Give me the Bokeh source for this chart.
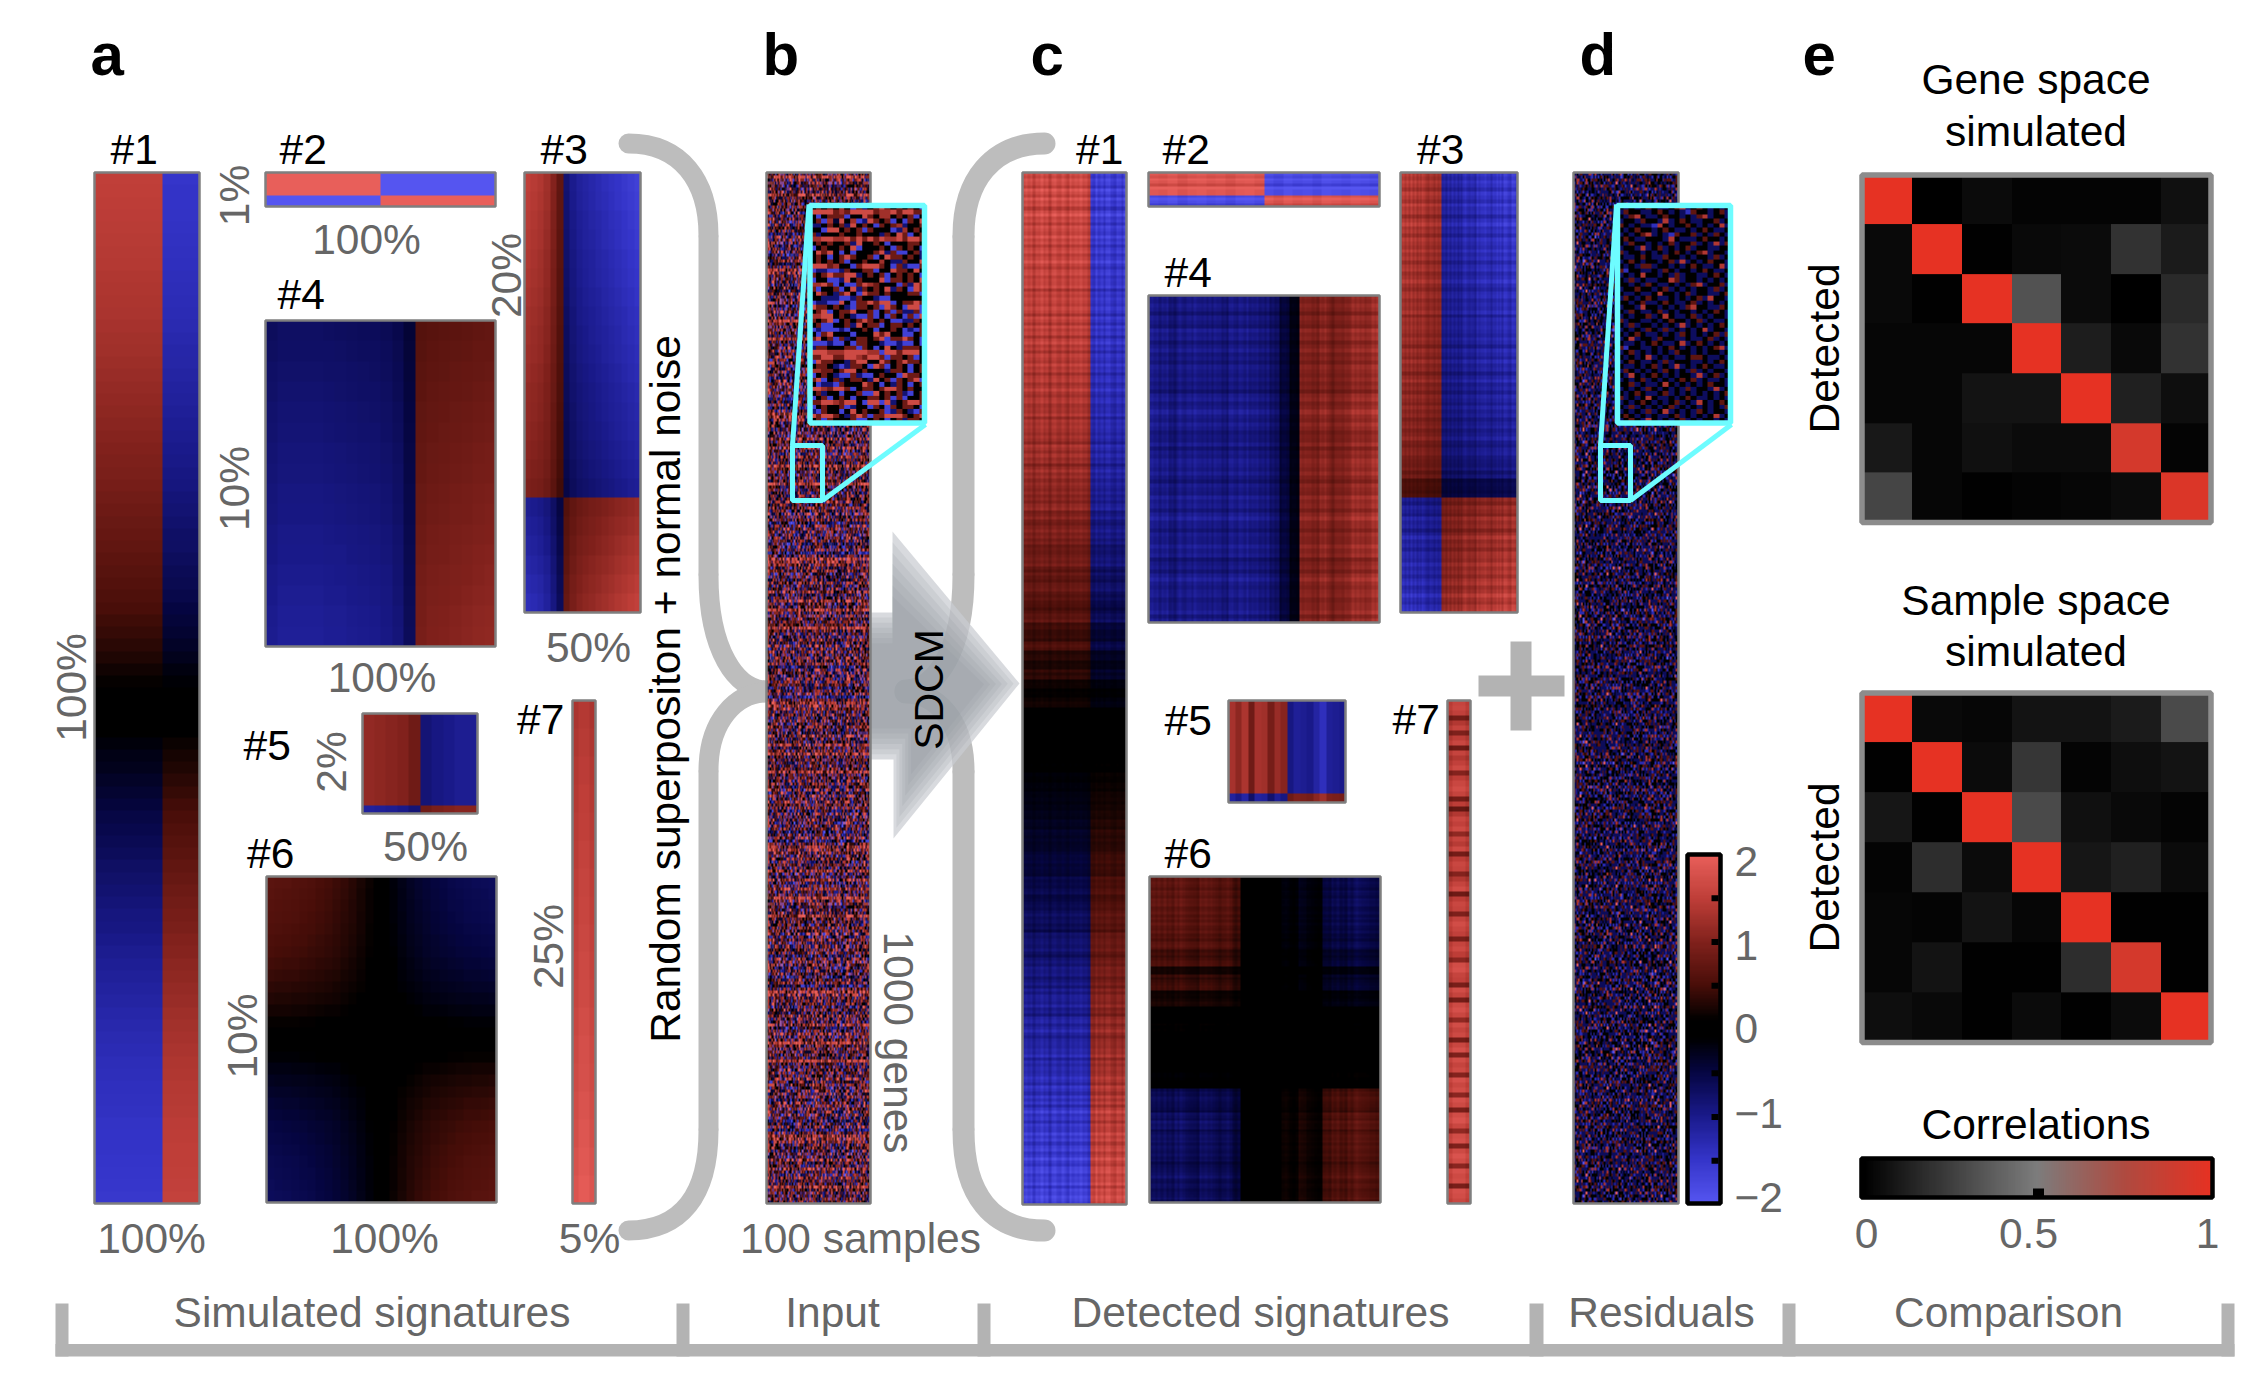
import numpy as np
from bokeh.plotting import figure
from bokeh.models import Range1d, LinearColorMapper
from bokeh.core.properties import value
from bokeh.embed import file_html
from bokeh.resources import INLINE

# ---------- values ----------
SIM1_ROWS = [1.52,1.5,1.49,1.47,1.46,1.44,1.43,1.41,1.39,1.37,1.35,1.33,1.3,1.28,1.25,1.22,1.19,1.16,1.13,1.1,1.07,1.04,1.01,.98,.94,.91,.87,.83,.79,.75,.72,.68,.64,.6,.55,.5,.45,.4,.34,.28,.2,.14,.08,.02,-.04,-.1,-.16,-.22,-.28,-.34,-.4,-.46,-.52,-.57,-.62,-.67,-.72,-.77,-.82,-.87,-.91,-.95,-1.0,-1.04,-1.08,-1.12,-1.16,-1.2,-1.24,-1.27,-1.3,-1.33,-1.36,-1.39,-1.41,-1.43,-1.45,-1.47,-1.49,-1.5,-1.51,-1.53,-1.54,-1.55]
SIM1_COLS = [1,1,1,1,1,1,1,1,1,1,1,1,1,-1,-1,-1,-1,-1,-1,-1]
SIM2_ROWS = [2,2,-2]
SIM2_COLS = [1,-1]
SIM3_ROWS = [1.2,1.18,1.15,1.13,1.1,1.08,1.05,1.02,1,.98,.95,.92,.9,.88,.85,.82,.78,-.85,-.9,-.95,-1.0,-1.05,-1.1]
SIM3_COLS = [1.25,1.2,1.15,1.05,.85,.6,-.7,-.85,-.95,-1.0,-1.05,-1.1,-1.15,-1.2,-1.25,-1.3,-1.35,-1.4]
SIM4_ROWS = [.72,.75,.78,.8,.83,.85,.88,.9,.93,.95,.98,1.0,1.03,1.05,1.08,1.1]
SIM4_COLS = [-.95,-1,-1,-1,-1,-.98,-.97,-.95,-.93,-.92,-.88,-.8,-.6,.85,.9,.92,.95,.97,1,1.02]
SIM5_ROWS = [1,1,1,1,1,1,1,1,1,1,1,-1]
SIM5_COLS = [1.15,1.1,1.05,1,.85,-.85,-.95,-1,-1.05,-1.05]
SIM6_ROWS = [.92,.89,.86,.83,.79,.75,.7,.64,.57,.49,.4,.3,.19,.07,-.07,-.19,-.3,-.4,-.49,-.57,-.64,-.7,-.75,-.79,-.83,-.86,-.89,-.92]
SIM6_COLS = [.72,.7,.68,.66,.63,.6,.56,.52,.47,.41,.34,.26,.17,.06,-.06,-.17,-.26,-.34,-.41,-.47,-.52,-.56,-.6,-.63,-.66,-.68,-.7,-.72]
SIM7_ROWS = [1.42,1.45,1.48,1.5,1.53,1.56,1.58,1.6,1.63,1.66,1.68,1.72,1.75,1.78,1.82,1.86,1.9,1.95]
SIM7_COLS = [.94,1,1,.94]

DET1_ROWS = [1.68,1.7,1.66,1.64,1.66,1.62,1.63,1.6,1.58,1.6,1.56,1.57,1.53,1.52,1.54,1.5,1.47,1.5,1.45,1.43,1.43,1.4,1.37,1.39,1.35,1.31,1.33,1.28,1.24,1.26,1.19,1.15,1.19,1.1,1.04,1.1,.98,.93,1.0,.88,.8,.9,.74,.69,.8,.61,.54,.68,.45,.39,.54,.32,.25,.36,.18,.12,.2,.06,.03,.08,-.02,-.05,-.08,-.1,-.14,-.16,-.2,-.22,-.25,-.3,-.34,-.32,-.4,-.46,-.42,-.52,-.58,-.52,-.64,-.7,-.62,-.76,-.82,-.74,-.88,-.93,-.88,-1.03,-1.08,-1.0,-1.13,-1.18,-1.12,-1.26,-1.28,-1.24,-1.38,-1.4,-1.37,-1.47,-1.5,-1.48,-1.56,-1.58,-1.57,-1.63,-1.66,-1.65,-1.7,-1.72]
DET1_COLS = [1,1.02,.98,1.01,1.03,.99,1,1.03,.98,1.01,1,1.02,.99,-.92,-1,-1.03,-1,-.97,-1.01,-1]
DET2_ROWS = [1,1,-1]
DET2_COLS = [1.9,1.85,1.95,1.8,1.9,1.95,1.85,1.9,1.8,1.92,1.95,1.85,-1.9,-1.8,-1.95,-1.85,-1.9,-1.8,-1.95,-1.9,-1.85,-1.95,-1.9,-1.85]
DET3_ROWS = [1.15,1.12,1.1,1.08,1.05,1.03,1,.98,.95,.92,.9,.88,.85,.82,.78,.68,.42,-.85,-.9,-.95,-1.0,-1.05,-1.1]
DET3_COLS = [1.25,1.3,1.2,1.25,1.15,1.15,1.1,-1.0,-1.1,-1.05,-1.15,-1.2,-1.15,-1.25,-1.3,-1.25,-1.3,-1.4,-1.35,-1.45]
DET4_ROWS = [1,.95,1.02,.98,1,.94,1.03,1.08,.96,1,1.05,.98,1.04,1.08,1,1.05,.96,1.08,1.02,1.05]
DET4_COLS = [-1.0,-.96,-.88,-.96,-1.0,-.92,-.96,-.88,-.96,-1.0,-.92,-.88,-.72,-.45,-.22,1.0,.95,1.05,.9,1.0,1.15,1.1,1.25]
DET5_ROWS = [1,1,1,1,1,1,1,1,1,1,1,-.9]
DET5_COLS = [1.3,1.1,1.35,.85,1.3,1.25,.9,1.2,1.05,-.95,-1.1,-1.05,-1.0,-1.2,-1.4,-1.1,-1.05,-1.0]
DET6_ROWS = [.85,.85,.85,.9,.8,.85,.78,.72,.78,.52,.65,.26,.48,.56,.22,.3,.1,.05,.13,.05,0,0,-.02,-.05,-.15,-.1,-.75,-.8,-.7,-.85,-.9,-.8,-.9,-.85,-.8,-.75,-.9,-.85,-.8,-.85]
DET6_COLS = [.8,.85,.75,.9,.8,.7,.85,.8,.7,.75,.55,.1,.05,0,0,-.05,-.2,-.15,-.3,-.2,-.15,-.55,-.7,-.6,-.75,-.8,-.7,-.6]
DET7_ROWS = [1.7,1.75,1.65,.95,1.5,1.7,1.05,1.6,1.75,.9,1.7,1.5,1.65,1.8,1.1,1.6,1.75,1.85,1.7,.95,1.6,.8,1.5,1.75,1.65,1.8,1.2,1.7,1.55,1.8,.95,1.6,1.75,1.7,1.1,1.5,1.7,1.85,.9,1.6,1.75,1.7,1.05,1.7,1.85,1.75,1.65,1.0,1.7,1.8,1.6,1.15,1.85,1.9,1.7,1.65,1.0,1.85,1.7,.95,1.8,1.9,1.75,1.2,1.85,1.7,1.8,.95,1.75,1.9,1.05,1.85,1.7,1.8,1.1,1.9,1.75,1.85,1.15,1.9,1.8,1.0,1.85,1.95,1.75,1.2,1.85,1.9,1.05,1.8,1.95,1.85,1.15,1.9,1.8,1.85,1.0,1.9,1.85,1.75]
DET7_COLS = [.85,.93,.93,.93,.85]
STREAK_ROWS = [1,.93,1.05,.98,.86,1.08,1,.9,1.1,.97,1.03,.84,1,1.12,.94,1.02,.88,1.06,.99,.93,1.09,.96,1.04,.87,1.01,1.07,.91,.98,1.1,.95,.89,1.03,1.06,.92,1,.97,1.08,.85,1.02,.96,1.05]
STREAK_COLS = [1,1.06,.96,1.02,.9,1.04,.98,1.08,.94,1,.88,1.05,1.07,.97,.92,1.03,1,.91,1.06,.97,1.04]

INSET_B = ["46464740624686464640","88886768888677868866","40466604486477464604","46073847028646040648","22464628464064672446",
"44088464606444027464","62444644644426486046","77887786868687786886","46464462844640444664","04644648044464064640",
"48684040444682600462","46404686446048664642","46464604464474226448","88867440688864062006","02200264466044866484",
"64686688246460464640","04400284644480664648","77860400687644406286","60446048264648264086","48642684086646444660",
"44222002644200444444","02200840668688046686","86646420664608640880","46804668446046062260","77884642006040640608",
"64680464686464002264","46004462846604664646","02000204464044640206","40684440444868440046","68460624664680668640",
"00020040664420020040","26644466064048426664","88877788887708868884","66886688768860664604","08664426884486468664",
"46642026640860464046","77664688464442664046","04642006200464408664","68046246642846064680","40220644486404264046",
"88768860466468864644","46244044600846462046","04604640446646060446","66887688408808246886","04644602440640646640",
"20644048464460264206","86886426860668886468","46064446004640462664"]
INSET_D = ["43434543345634543434","35443345434325443453","43564334544343563443","34435443634543344534","54343326434454343463",
"43454434543343454334","34345634325445343543","45433444364333454434","43544343453445343635","34436345343453443344",
"53443434345434563443","43345433544343443534","34543443453634345443","43435534434345433463","52443343543443454334",
"34346443435344334543","43534334465344343434","44343543343435634453","34454434534343443534","43343346443453443345",
"35434543343434536443","44345334543345343434","34436443434356443354","43543345343443434543","34344534643345343443",
"53443343454434534334","43534434343634343454","34343543534343463443","43454334343543434535","34634435443343345343",
"43343454334634543434","52443343454343434563","34534343435443434434","43434634343345543343","34543343534443343454",
"43343453436343454334","35434343543435343443","43643454343443634534","34345343434545343343","44534334643434345443",
"34343543434353443634","43454334534343434345","53434643343454334343","34345434345343643454","43534343453434343435",
"34343534634343543443","45434343345343434634","34543643434534344343"]

GENE_CORR = [[1,.0,.05,.02,.02,.02,.07],[.04,1,.01,.04,.05,.2,.11],[.04,.01,1,.33,.05,.0,.17],[.03,.03,.03,1,.12,.04,.2],[.03,.03,.08,.08,1,.13,.06],[.1,.03,.07,.05,.05,.92,.02],[.28,.03,.01,.02,.03,.05,.95]]
SAMPLE_CORR = [[1,.04,.03,.08,.08,.11,.3],[.01,1,.05,.22,.02,.06,.08],[.09,.01,1,.3,.07,.04,.02],[.02,.18,.05,1,.09,.13,.05],[.03,.02,.08,.03,1,.01,.01],[.03,.08,.01,.01,.18,.92,.01],[.06,.04,.01,.05,.01,.05,1]]
SCALE_TICKS = [1.5,1,.5,-.5,-1,-1.5]
SCALE_LABELS = ["2","1","0","\u22121","\u22122"]
CORR_LABELS = ["0","0.5","1"]
CORR_MARK = [.5]

# ---------- colour scales ----------
DIVERGING = [(-2,(85,85,240)),(-1.5,(52,52,200)),(-1,(26,26,138)),(-.5,(6,6,66)),(-.1,(0,0,0)),(.1,(0,0,0)),(.5,(72,14,9)),(1,(128,33,28)),(1.5,(190,62,56)),(2,(232,95,90))]
CORR = [(0,(0,0,0)),(.5,(125,125,125)),(.75,(175,75,65)),(1,(230,50,35))]

def palette(stops, low, high):
    xs = np.linspace(low, high, 256)
    vs = [s[0] for s in stops]
    chan = [np.interp(xs, vs, [s[1][k] for s in stops]) for k in range(3)]
    return ["#%02x%02x%02x" % (int(r), int(g), int(b)) for r, g, b in zip(*chan)]

cm_div = LinearColorMapper(palette=palette(DIVERGING, -2, 2), low=-2, high=2)
cm_cor = LinearColorMapper(palette=palette(CORR, 0, 1), low=0, high=1)

# ---------- page: coordinates are pixels of the 2262x1390 page, y downward ----------
W, H = 2262, 1390
p = figure(width=W-16, height=H-16, x_range=Range1d(0, W-16), y_range=Range1d(16, H),
           output_backend="svg", toolbar_location=None, min_border=0,
           x_axis_location=None, y_axis_location=None)
p.xgrid.visible = False
p.ygrid.visible = False
p.outline_line_color = None
p.background_fill_color = "white"
p.border_fill_color = "white"

def Y(v):
    return H - v

def box(x0, y0, x1, y1, color):
    p.quad(left=[x0], right=[x1], top=[Y(y0)], bottom=[Y(y1)], fill_color=color, line_color=None)

def frame(x0, y0, x1, y1, color, lw):
    p.quad(left=[x0], right=[x1], top=[Y(y0)], bottom=[Y(y1)], fill_color=None, line_color=color, line_width=lw)

def heat(mat, x0, y0, x1, y1, mapper=cm_div, border="#7f7f7f", lw=2.5):
    m = np.flipud(np.asarray(mat, dtype=float))
    p.image(image=[m], x=[x0], y=[Y(y1)], dw=[x1-x0], dh=[y1-y0], color_mapper=mapper)
    if border:
        frame(x0, y0, x1, y1, border, lw)

def outer(rows, cols):
    return np.outer(rows, cols)

def streak(vals, k, tex):
    v = np.repeat(np.asarray(vals, dtype=float), k)
    return v * np.resize(np.asarray(tex, dtype=float), v.size)

def digits(rows, scale):
    return (np.array([[int(c) for c in r] for r in rows], dtype=float) - 4) * scale

def weave(rows, scale, nrows, ncols, gain):
    t1 = digits(rows, scale)
    t2 = t1.T
    i, j = np.mgrid[0:nrows, 0:ncols]
    a = t1[i % t1.shape[0], j % t1.shape[1]]
    b = t2[i % t2.shape[0], j % t2.shape[1]]
    return np.clip((a + b) * gain, -2, 2)

def txt(x, y, s, size=42.5, color="#666666", angle=0, align="left", bold=False):
    off = .34 * size
    p.text(x=[x - off*np.sin(angle)], y=[Y(y) + off*np.cos(angle)], text=[s], text_font=value("Liberation Sans"),
           text_font_size=value(f"{size}px"), text_color=color, angle=angle, text_align=align,
           text_baseline="alphabetic", text_font_style="bold" if bold else "normal")

R90 = np.pi/2
GREY = "#bdbdbd"

# braces
def brace(xv, xt, xe, w):
    s = 1 if xe < xv else -1
    for x0, y0, x1, y1, cx0, cy0, cx1, cy1 in [
        (xe, 143, xv, 235, xe + s*52, 143, xv, 180),
        (xv, 575, xt, 690, xv, 650, xt - s*30, 690),
        (xt, 692, xv, 770, xt - s*30, 692, xv, 720),
        (xv, 1130, xe, 1230, xv, 1195, xe + s*52, 1230)]:
        p.bezier(x0=[x0], y0=[Y(y0)], x1=[x1], y1=[Y(y1)], cx0=[cx0], cy0=[Y(cy0)], cx1=[cx1], cy1=[Y(cy1)],
                 line_color=GREY, line_width=w, line_cap="round")
    p.segment(x0=[xv, xv], y0=[Y(235), Y(770)], x1=[xv, xv], y1=[Y(575), Y(1130)], line_color=GREY, line_width=w)

brace(708, 766, 628, 20)
brace(963, 905, 1044, 22)

# arrow
ax = [870, 892, 892, 1019, 893, 893, 870]
ay = [612, 612, 531, 683, 838, 759, 759]
p.patch(ax, [Y(v) for v in ay], fill_color="#c9ccd1", fill_alpha=.72, line_color=None)
for k in [.93, .86, .79, .72, .65, .58]:
    p.patch([935 + (v-935)*k if v > 892 else v for v in ax], [Y(685 + (v-685)*k) for v in ay],
            fill_color="#8f939a", fill_alpha=.16, line_color=None)

# panel a
heat(outer(SIM1_ROWS, SIM1_COLS), 94, 172, 199, 1203)
heat(outer(SIM2_ROWS, SIM2_COLS), 265, 172, 495, 206)
heat(outer(SIM3_ROWS, SIM3_COLS), 524, 172, 640, 612)
heat(outer(SIM4_ROWS, SIM4_COLS), 265, 320, 495, 646)
heat(outer(SIM5_ROWS, SIM5_COLS), 362, 713, 477, 813)
heat(outer(SIM6_ROWS, SIM6_COLS), 266, 876, 496, 1202)
heat(outer(SIM7_ROWS, SIM7_COLS), 572, 700, 595, 1203)

# panel b
heat(weave(INSET_B, .5, 343, 104, .7), 766, 172, 870, 1203)

# panel c
heat(outer(streak(DET1_ROWS, 3, STREAK_ROWS), streak(DET1_COLS, 2, STREAK_COLS)), 1022, 172, 1126, 1204)
heat(outer(streak(DET2_ROWS, 4, STREAK_ROWS[:7]), DET2_COLS), 1148, 172, 1379, 206)
heat(outer(streak(DET3_ROWS, 5, STREAK_ROWS), streak(DET3_COLS, 3, STREAK_COLS)), 1400, 172, 1517, 612)
heat(outer(streak(DET4_ROWS, 4, STREAK_ROWS), streak(DET4_COLS, 4, STREAK_COLS)), 1148, 295, 1379, 622)
heat(outer(DET5_ROWS, DET5_COLS), 1228, 700, 1345, 802)
heat(outer(streak(DET6_ROWS, 3, STREAK_ROWS), streak(DET6_COLS, 3, STREAK_COLS)), 1149, 876, 1380, 1202)
heat(outer(DET7_ROWS, DET7_COLS), 1447, 700, 1470, 1203)

# plus
box(1510, 641, 1531, 730, "#b3b3b3")
box(1478, 675, 1564, 696, "#b3b3b3")

# panel d
heat(weave(INSET_D, .6, 343, 70, 1.1), 1573, 172, 1678, 1203)

# insets
CY = "#6efcff"
for (ix0, ix1, sx0, sx1, rows, sc) in [(806.5, 927, 790, 824, INSET_B, .42), (1614, 1733, 1598, 1632, INSET_D, .7)]:
    p.segment(x0=[ix0+2, ix1-2], y0=[Y(204), Y(424)], x1=[sx0+2, sx1-2], y1=[Y(445), Y(500)], line_color=CY, line_width=5)
    heat(digits(rows, sc), ix0+3, 205, ix1-3, 422.5, border=CY, lw=5.5)
    frame(sx0+2, 445, sx1-2, 500, CY, 5)

# colour scale
heat(np.linspace(2, -2, 160)[:, None], 1687, 854, 1720, 1203, border="black", lw=4.5)
for t in SCALE_TICKS:
    yt = 1029 - t*87.5
    box(1711, yt-3, 1718, yt+3, "black")
for s, yb in zip(SCALE_LABELS, [875, 959, 1042, 1127, 1211]):
    txt(1734, yb, s)

# panel e
heat(GENE_CORR, 1861.5, 174.5, 2210.5, 522, mapper=cm_cor, border="#8c8c8c", lw=5.5)
heat(SAMPLE_CORR, 1861.5, 692.5, 2210.5, 1042, mapper=cm_cor, border="#8c8c8c", lw=5.5)
heat(np.linspace(0, 1, 200)[None, :], 1861, 1158, 2212, 1197, mapper=cm_cor, border="black", lw=4.5)
for c in CORR_MARK:
    xc = 1861 + c*354
    box(xc-5.5, 1188, xc+5.5, 1197, "black")
for s, xc in zip(CORR_LABELS, [1866, 2028, 2207]):
    txt(xc, 1247, s, align="center")

# black labels
for s, x, y in [("#1",110,163),("#2",279,163),("#3",540,163),("#4",277,308),("#5",243,759),("#6",246.5,867),("#7",516.5,733.5),
                ("#1",1075.5,163),("#2",1162,163),("#3",1416.5,163),("#4",1164,286.5),("#5",1164,734),("#6",1164,867),("#7",1392,733.5)]:
    txt(x, y, s, color="black")
for s, x in [("a",90),("b",762),("c",1030),("d",1579),("e",1802)]:
    txt(x, 74, s, size=60, color="black", bold=True)
txt(679.5, 688.5, "Random superpositon + normal noise", color="black", angle=R90, align="center")
txt(942.5, 689, "SDCM", size=41, color="black", angle=R90, align="center")
for s, y in [("Gene space",93),("simulated",145),("Sample space",614),("simulated",665.5),("Correlations",1138)]:
    txt(2035.5, y, s, color="black", align="center")
txt(1838, 348, "Detected", color="black", angle=R90, align="center")
txt(1838, 867, "Detected", color="black", angle=R90, align="center")

# grey labels
for s, x, y in [("100%",151,1252.5),("100%",366,253.5),("100%",381.5,691.5),("50%",588,661),("50%",425,860),("100%",384,1252.5),
                ("5%",589,1252.5),("100 samples",860,1252.5),("Simulated signatures",371.5,1326),("Input",832,1326),
                ("Detected signatures",1260,1326),("Residuals",1661,1326),("Comparison",2008,1326)]:
    txt(x, y, s, align="center")
for s, x, y in [("100%",85.5,687),("1%",248,195),("20%",520,275),("10%",248,488),("2%",345,761.5),("10%",256,1035.5),("25%",562.5,946)]:
    txt(x, y, s, angle=R90, align="center")
txt(884, 1042, "1000 genes", angle=-R90, align="center")

# bottom bracket
box(55, 1343.5, 2234, 1356, "#b3b3b3")
for x0, x1 in [(55,68),(676,689),(977,990),(1529,1543),(1782,1795),(2221,2234)]:
    box(x0, 1303, x1, 1356, "#b3b3b3")

open("out.html", "w").write(file_html(p, INLINE))
